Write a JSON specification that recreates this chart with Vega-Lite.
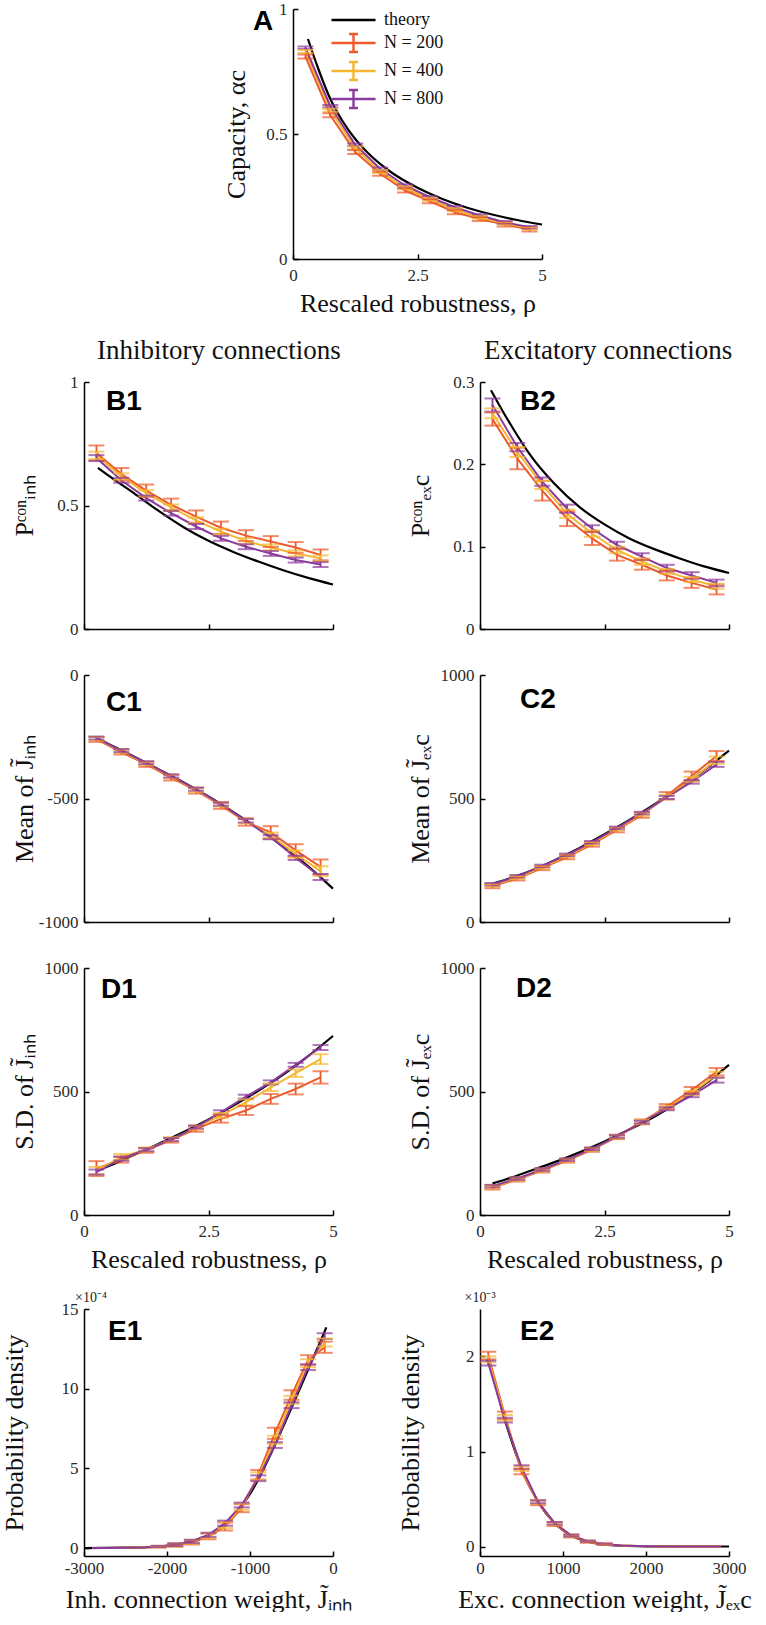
{
"$schema": "https://vega.github.io/schema/vega-lite/v6.json",
"background": "white",
"padding": {"left": 0, "top": 0, "right": 0, "bottom": 0},
"datasets": {"d": [
{"p":"A","s":"t","x":0.3,"y":0.88},{"p":"A","s":"t","x":0.5,"y":0.765},{"p":"A","s":"t","x":0.75,"y":0.64},{"p":"A","s":"t","x":1,"y":0.55},{"p":"A","s":"t","x":1.25,"y":0.48},{"p":"A","s":"t","x":1.5,"y":0.425},{"p":"A","s":"t","x":2,"y":0.343},{"p":"A","s":"t","x":2.5,"y":0.285},{"p":"A","s":"t","x":3,"y":0.24},{"p":"A","s":"t","x":3.5,"y":0.205},{"p":"A","s":"t","x":4,"y":0.178},{"p":"A","s":"t","x":4.5,"y":0.156},{"p":"A","s":"t","x":5,"y":0.138},
{"p":"A","s":"200","x":0.25,"y":0.81,"lo":0.802,"hi":0.818},{"p":"A","s":"200","x":0.75,"y":0.575,"lo":0.567,"hi":0.583},{"p":"A","s":"200","x":1.25,"y":0.428,"lo":0.42,"hi":0.436},{"p":"A","s":"200","x":1.75,"y":0.341,"lo":0.333,"hi":0.349},{"p":"A","s":"200","x":2.25,"y":0.274,"lo":0.266,"hi":0.282},{"p":"A","s":"200","x":2.75,"y":0.231,"lo":0.223,"hi":0.239},{"p":"A","s":"200","x":3.25,"y":0.187,"lo":0.179,"hi":0.195},{"p":"A","s":"200","x":3.75,"y":0.16,"lo":0.152,"hi":0.168},{"p":"A","s":"200","x":4.25,"y":0.138,"lo":0.13,"hi":0.146},{"p":"A","s":"200","x":4.75,"y":0.118,"lo":0.11,"hi":0.126},
{"p":"A","s":"400","x":0.25,"y":0.83,"lo":0.824,"hi":0.836},{"p":"A","s":"400","x":0.75,"y":0.595,"lo":0.589,"hi":0.601},{"p":"A","s":"400","x":1.25,"y":0.444,"lo":0.438,"hi":0.45},{"p":"A","s":"400","x":1.75,"y":0.35,"lo":0.344,"hi":0.356},{"p":"A","s":"400","x":2.25,"y":0.285,"lo":0.279,"hi":0.291},{"p":"A","s":"400","x":2.75,"y":0.239,"lo":0.233,"hi":0.245},{"p":"A","s":"400","x":3.25,"y":0.197,"lo":0.191,"hi":0.203},{"p":"A","s":"400","x":3.75,"y":0.167,"lo":0.161,"hi":0.173},{"p":"A","s":"400","x":4.25,"y":0.143,"lo":0.137,"hi":0.149},{"p":"A","s":"400","x":4.75,"y":0.123,"lo":0.117,"hi":0.129},
{"p":"A","s":"800","x":0.25,"y":0.845,"lo":0.84,"hi":0.85},{"p":"A","s":"800","x":0.75,"y":0.611,"lo":0.606,"hi":0.616},{"p":"A","s":"800","x":1.25,"y":0.457,"lo":0.452,"hi":0.462},{"p":"A","s":"800","x":1.75,"y":0.361,"lo":0.356,"hi":0.366},{"p":"A","s":"800","x":2.25,"y":0.294,"lo":0.289,"hi":0.299},{"p":"A","s":"800","x":2.75,"y":0.247,"lo":0.242,"hi":0.252},{"p":"A","s":"800","x":3.25,"y":0.207,"lo":0.202,"hi":0.212},{"p":"A","s":"800","x":3.75,"y":0.174,"lo":0.169,"hi":0.179},{"p":"A","s":"800","x":4.25,"y":0.147,"lo":0.142,"hi":0.152},{"p":"A","s":"800","x":4.75,"y":0.127,"lo":0.122,"hi":0.132},

{"p":"B1","s":"t","x":0.28,"y":0.652},{"p":"B1","s":"t","x":0.5,"y":0.62},{"p":"B1","s":"t","x":1,"y":0.55},{"p":"B1","s":"t","x":1.5,"y":0.478},{"p":"B1","s":"t","x":2,"y":0.412},{"p":"B1","s":"t","x":2.5,"y":0.357},{"p":"B1","s":"t","x":3,"y":0.312},{"p":"B1","s":"t","x":3.5,"y":0.273},{"p":"B1","s":"t","x":4,"y":0.238},{"p":"B1","s":"t","x":4.5,"y":0.207},{"p":"B1","s":"t","x":5,"y":0.18},
{"p":"B1","s":"200","x":0.25,"y":0.713,"lo":0.683,"hi":0.743},{"p":"B1","s":"200","x":0.75,"y":0.627,"lo":0.602,"hi":0.652},{"p":"B1","s":"200","x":1.25,"y":0.56,"lo":0.535,"hi":0.585},{"p":"B1","s":"200","x":1.75,"y":0.503,"lo":0.478,"hi":0.528},{"p":"B1","s":"200","x":2.25,"y":0.455,"lo":0.43,"hi":0.48},{"p":"B1","s":"200","x":2.75,"y":0.41,"lo":0.385,"hi":0.435},{"p":"B1","s":"200","x":3.25,"y":0.378,"lo":0.356,"hi":0.4},{"p":"B1","s":"200","x":3.75,"y":0.354,"lo":0.332,"hi":0.376},{"p":"B1","s":"200","x":4.25,"y":0.33,"lo":0.308,"hi":0.352},{"p":"B1","s":"200","x":4.75,"y":0.3,"lo":0.278,"hi":0.322},
{"p":"B1","s":"400","x":0.25,"y":0.703,"lo":0.688,"hi":0.718},{"p":"B1","s":"400","x":0.75,"y":0.618,"lo":0.606,"hi":0.63},{"p":"B1","s":"400","x":1.25,"y":0.55,"lo":0.538,"hi":0.562},{"p":"B1","s":"400","x":1.75,"y":0.492,"lo":0.48,"hi":0.504},{"p":"B1","s":"400","x":2.25,"y":0.44,"lo":0.428,"hi":0.452},{"p":"B1","s":"400","x":2.75,"y":0.394,"lo":0.382,"hi":0.406},{"p":"B1","s":"400","x":3.25,"y":0.356,"lo":0.344,"hi":0.368},{"p":"B1","s":"400","x":3.75,"y":0.33,"lo":0.318,"hi":0.342},{"p":"B1","s":"400","x":4.25,"y":0.306,"lo":0.294,"hi":0.318},{"p":"B1","s":"400","x":4.75,"y":0.286,"lo":0.274,"hi":0.298},
{"p":"B1","s":"800","x":0.25,"y":0.692,"lo":0.68,"hi":0.704},{"p":"B1","s":"800","x":0.75,"y":0.602,"lo":0.592,"hi":0.612},{"p":"B1","s":"800","x":1.25,"y":0.53,"lo":0.52,"hi":0.54},{"p":"B1","s":"800","x":1.75,"y":0.469,"lo":0.459,"hi":0.479},{"p":"B1","s":"800","x":2.25,"y":0.415,"lo":0.405,"hi":0.425},{"p":"B1","s":"800","x":2.75,"y":0.367,"lo":0.357,"hi":0.377},{"p":"B1","s":"800","x":3.25,"y":0.333,"lo":0.323,"hi":0.343},{"p":"B1","s":"800","x":3.75,"y":0.306,"lo":0.296,"hi":0.316},{"p":"B1","s":"800","x":4.25,"y":0.279,"lo":0.269,"hi":0.289},{"p":"B1","s":"800","x":4.75,"y":0.261,"lo":0.251,"hi":0.271},

{"p":"B2","s":"t","x":0.22,"y":0.29},{"p":"B2","s":"t","x":0.5,"y":0.26},{"p":"B2","s":"t","x":0.75,"y":0.235},{"p":"B2","s":"t","x":1,"y":0.212},{"p":"B2","s":"t","x":1.5,"y":0.176},{"p":"B2","s":"t","x":2,"y":0.148},{"p":"B2","s":"t","x":2.5,"y":0.127},{"p":"B2","s":"t","x":3,"y":0.11},{"p":"B2","s":"t","x":3.5,"y":0.097},{"p":"B2","s":"t","x":4,"y":0.086},{"p":"B2","s":"t","x":4.5,"y":0.076},{"p":"B2","s":"t","x":5,"y":0.068},
{"p":"B2","s":"200","x":0.25,"y":0.255,"lo":0.247,"hi":0.263},{"p":"B2","s":"200","x":0.75,"y":0.207,"lo":0.194,"hi":0.22},{"p":"B2","s":"200","x":1.25,"y":0.168,"lo":0.156,"hi":0.18},{"p":"B2","s":"200","x":1.75,"y":0.134,"lo":0.125,"hi":0.143},{"p":"B2","s":"200","x":2.25,"y":0.11,"lo":0.102,"hi":0.118},{"p":"B2","s":"200","x":2.75,"y":0.09,"lo":0.083,"hi":0.097},{"p":"B2","s":"200","x":3.25,"y":0.078,"lo":0.072,"hi":0.084},{"p":"B2","s":"200","x":3.75,"y":0.065,"lo":0.059,"hi":0.071},{"p":"B2","s":"200","x":4.25,"y":0.056,"lo":0.05,"hi":0.062},{"p":"B2","s":"200","x":4.75,"y":0.048,"lo":0.042,"hi":0.054},
{"p":"B2","s":"400","x":0.25,"y":0.262,"lo":0.256,"hi":0.268},{"p":"B2","s":"400","x":0.75,"y":0.215,"lo":0.209,"hi":0.221},{"p":"B2","s":"400","x":1.25,"y":0.175,"lo":0.17,"hi":0.18},{"p":"B2","s":"400","x":1.75,"y":0.14,"lo":0.135,"hi":0.145},{"p":"B2","s":"400","x":2.25,"y":0.116,"lo":0.112,"hi":0.12},{"p":"B2","s":"400","x":2.75,"y":0.096,"lo":0.092,"hi":0.1},{"p":"B2","s":"400","x":3.25,"y":0.082,"lo":0.078,"hi":0.086},{"p":"B2","s":"400","x":3.75,"y":0.07,"lo":0.067,"hi":0.073},{"p":"B2","s":"400","x":4.25,"y":0.06,"lo":0.057,"hi":0.063},{"p":"B2","s":"400","x":4.75,"y":0.052,"lo":0.049,"hi":0.055},
{"p":"B2","s":"800","x":0.25,"y":0.272,"lo":0.264,"hi":0.28},{"p":"B2","s":"800","x":0.75,"y":0.221,"lo":0.216,"hi":0.226},{"p":"B2","s":"800","x":1.25,"y":0.179,"lo":0.174,"hi":0.184},{"p":"B2","s":"800","x":1.75,"y":0.146,"lo":0.141,"hi":0.151},{"p":"B2","s":"800","x":2.25,"y":0.122,"lo":0.118,"hi":0.126},{"p":"B2","s":"800","x":2.75,"y":0.102,"lo":0.098,"hi":0.106},{"p":"B2","s":"800","x":3.25,"y":0.088,"lo":0.084,"hi":0.092},{"p":"B2","s":"800","x":3.75,"y":0.074,"lo":0.07,"hi":0.078},{"p":"B2","s":"800","x":4.25,"y":0.065,"lo":0.061,"hi":0.069},{"p":"B2","s":"800","x":4.75,"y":0.056,"lo":0.052,"hi":0.06},

{"p":"C1","s":"t","x":0.25,"y":-255},{"p":"C1","s":"t","x":0.5,"y":-280},{"p":"C1","s":"t","x":1,"y":-330},{"p":"C1","s":"t","x":1.5,"y":-382},{"p":"C1","s":"t","x":2,"y":-435},{"p":"C1","s":"t","x":2.5,"y":-492},{"p":"C1","s":"t","x":3,"y":-555},{"p":"C1","s":"t","x":3.5,"y":-622},{"p":"C1","s":"t","x":4,"y":-695},{"p":"C1","s":"t","x":4.5,"y":-775},{"p":"C1","s":"t","x":5,"y":-865},
{"p":"C1","s":"200","x":0.25,"y":-261,"lo":-271,"hi":-251},{"p":"C1","s":"200","x":0.75,"y":-312,"lo":-322,"hi":-302},{"p":"C1","s":"200","x":1.25,"y":-362,"lo":-372,"hi":-352},{"p":"C1","s":"200","x":1.75,"y":-415,"lo":-427,"hi":-403},{"p":"C1","s":"200","x":2.25,"y":-468,"lo":-480,"hi":-456},{"p":"C1","s":"200","x":2.75,"y":-528,"lo":-542,"hi":-514},{"p":"C1","s":"200","x":3.25,"y":-595,"lo":-610,"hi":-580},{"p":"C1","s":"200","x":3.75,"y":-637,"lo":-662,"hi":-612},{"p":"C1","s":"200","x":4.25,"y":-710,"lo":-735,"hi":-685},{"p":"C1","s":"200","x":4.75,"y":-777,"lo":-807,"hi":-747},
{"p":"C1","s":"400","x":0.25,"y":-258,"lo":-265,"hi":-251},{"p":"C1","s":"400","x":0.75,"y":-308,"lo":-315,"hi":-301},{"p":"C1","s":"400","x":1.25,"y":-358,"lo":-365,"hi":-351},{"p":"C1","s":"400","x":1.75,"y":-411,"lo":-418,"hi":-404},{"p":"C1","s":"400","x":2.25,"y":-465,"lo":-473,"hi":-457},{"p":"C1","s":"400","x":2.75,"y":-525,"lo":-533,"hi":-517},{"p":"C1","s":"400","x":3.25,"y":-592,"lo":-601,"hi":-583},{"p":"C1","s":"400","x":3.75,"y":-650,"lo":-662,"hi":-638},{"p":"C1","s":"400","x":4.25,"y":-725,"lo":-740,"hi":-710},{"p":"C1","s":"400","x":4.75,"y":-794,"lo":-814,"hi":-774},
{"p":"C1","s":"800","x":0.25,"y":-255,"lo":-261,"hi":-249},{"p":"C1","s":"800","x":0.75,"y":-306,"lo":-312,"hi":-300},{"p":"C1","s":"800","x":1.25,"y":-355,"lo":-361,"hi":-349},{"p":"C1","s":"800","x":1.75,"y":-409,"lo":-415,"hi":-403},{"p":"C1","s":"800","x":2.25,"y":-462,"lo":-468,"hi":-456},{"p":"C1","s":"800","x":2.75,"y":-523,"lo":-529,"hi":-517},{"p":"C1","s":"800","x":3.25,"y":-590,"lo":-597,"hi":-583},{"p":"C1","s":"800","x":3.75,"y":-657,"lo":-665,"hi":-649},{"p":"C1","s":"800","x":4.25,"y":-740,"lo":-749,"hi":-731},{"p":"C1","s":"800","x":4.75,"y":-818,"lo":-830,"hi":-806},

{"p":"C2","s":"t","x":0.25,"y":155},{"p":"C2","s":"t","x":0.5,"y":170},{"p":"C2","s":"t","x":1,"y":205},{"p":"C2","s":"t","x":1.5,"y":250},{"p":"C2","s":"t","x":2,"y":300},{"p":"C2","s":"t","x":2.5,"y":355},{"p":"C2","s":"t","x":3,"y":413},{"p":"C2","s":"t","x":3.5,"y":476},{"p":"C2","s":"t","x":4,"y":543},{"p":"C2","s":"t","x":4.5,"y":615},{"p":"C2","s":"t","x":5,"y":694},
{"p":"C2","s":"200","x":0.25,"y":145,"lo":137,"hi":153},{"p":"C2","s":"200","x":0.75,"y":176,"lo":168,"hi":184},{"p":"C2","s":"200","x":1.25,"y":218,"lo":210,"hi":226},{"p":"C2","s":"200","x":1.75,"y":263,"lo":254,"hi":272},{"p":"C2","s":"200","x":2.25,"y":314,"lo":305,"hi":323},{"p":"C2","s":"200","x":2.75,"y":373,"lo":363,"hi":383},{"p":"C2","s":"200","x":3.25,"y":433,"lo":422,"hi":444},{"p":"C2","s":"200","x":3.75,"y":511,"lo":496,"hi":526},{"p":"C2","s":"200","x":4.25,"y":591,"lo":573,"hi":609},{"p":"C2","s":"200","x":4.75,"y":672,"lo":652,"hi":692},
{"p":"C2","s":"400","x":0.25,"y":149,"lo":143,"hi":155},{"p":"C2","s":"400","x":0.75,"y":180,"lo":174,"hi":186},{"p":"C2","s":"400","x":1.25,"y":222,"lo":216,"hi":228},{"p":"C2","s":"400","x":1.75,"y":268,"lo":262,"hi":274},{"p":"C2","s":"400","x":2.25,"y":318,"lo":312,"hi":324},{"p":"C2","s":"400","x":2.75,"y":377,"lo":370,"hi":384},{"p":"C2","s":"400","x":3.25,"y":437,"lo":430,"hi":444},{"p":"C2","s":"400","x":3.75,"y":506,"lo":497,"hi":515},{"p":"C2","s":"400","x":4.25,"y":578,"lo":568,"hi":588},{"p":"C2","s":"400","x":4.75,"y":655,"lo":640,"hi":670},
{"p":"C2","s":"800","x":0.25,"y":153,"lo":148,"hi":158},{"p":"C2","s":"800","x":0.75,"y":185,"lo":180,"hi":190},{"p":"C2","s":"800","x":1.25,"y":227,"lo":222,"hi":232},{"p":"C2","s":"800","x":1.75,"y":272,"lo":267,"hi":277},{"p":"C2","s":"800","x":2.25,"y":323,"lo":318,"hi":328},{"p":"C2","s":"800","x":2.75,"y":381,"lo":376,"hi":386},{"p":"C2","s":"800","x":3.25,"y":441,"lo":436,"hi":446},{"p":"C2","s":"800","x":3.75,"y":504,"lo":498,"hi":510},{"p":"C2","s":"800","x":4.25,"y":567,"lo":560,"hi":574},{"p":"C2","s":"800","x":4.75,"y":638,"lo":628,"hi":648},

{"p":"D1","s":"t","x":0.25,"y":178},{"p":"D1","s":"t","x":0.5,"y":198},{"p":"D1","s":"t","x":1,"y":243},{"p":"D1","s":"t","x":1.5,"y":288},{"p":"D1","s":"t","x":2,"y":336},{"p":"D1","s":"t","x":2.5,"y":387},{"p":"D1","s":"t","x":3,"y":443},{"p":"D1","s":"t","x":3.5,"y":503},{"p":"D1","s":"t","x":4,"y":568},{"p":"D1","s":"t","x":4.5,"y":643},{"p":"D1","s":"t","x":5,"y":725},
{"p":"D1","s":"200","x":0.25,"y":188,"lo":158,"hi":218},{"p":"D1","s":"200","x":0.75,"y":224,"lo":212,"hi":236},{"p":"D1","s":"200","x":1.25,"y":262,"lo":252,"hi":272},{"p":"D1","s":"200","x":1.75,"y":303,"lo":293,"hi":313},{"p":"D1","s":"200","x":2.25,"y":349,"lo":337,"hi":361},{"p":"D1","s":"200","x":2.75,"y":389,"lo":374,"hi":404},{"p":"D1","s":"200","x":3.25,"y":423,"lo":405,"hi":441},{"p":"D1","s":"200","x":3.75,"y":470,"lo":450,"hi":490},{"p":"D1","s":"200","x":4.25,"y":510,"lo":488,"hi":532},{"p":"D1","s":"200","x":4.75,"y":557,"lo":532,"hi":582},
{"p":"D1","s":"400","x":0.25,"y":180,"lo":165,"hi":195},{"p":"D1","s":"400","x":0.75,"y":235,"lo":223,"hi":247},{"p":"D1","s":"400","x":1.25,"y":265,"lo":257,"hi":273},{"p":"D1","s":"400","x":1.75,"y":306,"lo":298,"hi":314},{"p":"D1","s":"400","x":2.25,"y":354,"lo":346,"hi":362},{"p":"D1","s":"400","x":2.75,"y":403,"lo":393,"hi":413},{"p":"D1","s":"400","x":3.25,"y":456,"lo":444,"hi":468},{"p":"D1","s":"400","x":3.75,"y":517,"lo":502,"hi":532},{"p":"D1","s":"400","x":4.25,"y":574,"lo":559,"hi":589},{"p":"D1","s":"400","x":4.75,"y":631,"lo":611,"hi":651},
{"p":"D1","s":"800","x":0.25,"y":174,"lo":164,"hi":184},{"p":"D1","s":"800","x":0.75,"y":228,"lo":220,"hi":236},{"p":"D1","s":"800","x":1.25,"y":264,"lo":258,"hi":270},{"p":"D1","s":"800","x":1.75,"y":305,"lo":299,"hi":311},{"p":"D1","s":"800","x":2.25,"y":356,"lo":350,"hi":362},{"p":"D1","s":"800","x":2.75,"y":416,"lo":408,"hi":424},{"p":"D1","s":"800","x":3.25,"y":479,"lo":471,"hi":487},{"p":"D1","s":"800","x":3.75,"y":537,"lo":529,"hi":545},{"p":"D1","s":"800","x":4.25,"y":608,"lo":600,"hi":616},{"p":"D1","s":"800","x":4.75,"y":678,"lo":668,"hi":688},

{"p":"D2","s":"t","x":0.25,"y":128},{"p":"D2","s":"t","x":0.5,"y":143},{"p":"D2","s":"t","x":1,"y":178},{"p":"D2","s":"t","x":1.5,"y":214},{"p":"D2","s":"t","x":2,"y":254},{"p":"D2","s":"t","x":2.5,"y":298},{"p":"D2","s":"t","x":3,"y":346},{"p":"D2","s":"t","x":3.5,"y":398},{"p":"D2","s":"t","x":4,"y":458},{"p":"D2","s":"t","x":4.5,"y":528},{"p":"D2","s":"t","x":5,"y":608},
{"p":"D2","s":"200","x":0.25,"y":111,"lo":103,"hi":119},{"p":"D2","s":"200","x":0.75,"y":144,"lo":136,"hi":152},{"p":"D2","s":"200","x":1.25,"y":180,"lo":172,"hi":188},{"p":"D2","s":"200","x":1.75,"y":220,"lo":212,"hi":228},{"p":"D2","s":"200","x":2.25,"y":264,"lo":256,"hi":272},{"p":"D2","s":"200","x":2.75,"y":316,"lo":307,"hi":325},{"p":"D2","s":"200","x":3.25,"y":377,"lo":367,"hi":387},{"p":"D2","s":"200","x":3.75,"y":439,"lo":429,"hi":449},{"p":"D2","s":"200","x":4.25,"y":506,"lo":494,"hi":518},{"p":"D2","s":"200","x":4.75,"y":580,"lo":565,"hi":595},
{"p":"D2","s":"400","x":0.25,"y":114,"lo":108,"hi":120},{"p":"D2","s":"400","x":0.75,"y":146,"lo":140,"hi":152},{"p":"D2","s":"400","x":1.25,"y":182,"lo":176,"hi":188},{"p":"D2","s":"400","x":1.75,"y":222,"lo":216,"hi":228},{"p":"D2","s":"400","x":2.25,"y":266,"lo":260,"hi":272},{"p":"D2","s":"400","x":2.75,"y":317,"lo":311,"hi":323},{"p":"D2","s":"400","x":3.25,"y":376,"lo":369,"hi":383},{"p":"D2","s":"400","x":3.75,"y":434,"lo":427,"hi":441},{"p":"D2","s":"400","x":4.25,"y":494,"lo":486,"hi":502},{"p":"D2","s":"400","x":4.75,"y":568,"lo":556,"hi":580},
{"p":"D2","s":"800","x":0.25,"y":117,"lo":112,"hi":122},{"p":"D2","s":"800","x":0.75,"y":148,"lo":143,"hi":153},{"p":"D2","s":"800","x":1.25,"y":184,"lo":179,"hi":189},{"p":"D2","s":"800","x":1.75,"y":224,"lo":219,"hi":229},{"p":"D2","s":"800","x":2.25,"y":268,"lo":263,"hi":273},{"p":"D2","s":"800","x":2.75,"y":318,"lo":313,"hi":323},{"p":"D2","s":"800","x":3.25,"y":376,"lo":371,"hi":381},{"p":"D2","s":"800","x":3.75,"y":430,"lo":424,"hi":436},{"p":"D2","s":"800","x":4.25,"y":483,"lo":477,"hi":489},{"p":"D2","s":"800","x":4.75,"y":546,"lo":536,"hi":556},

{"p":"E1","s":"t","x":-3000,"y":0},{"p":"E1","s":"t","x":-2500,"y":0.02},{"p":"E1","s":"t","x":-2250,"y":0.05},{"p":"E1","s":"t","x":-2000,"y":0.14},{"p":"E1","s":"t","x":-1750,"y":0.37},{"p":"E1","s":"t","x":-1500,"y":0.82},{"p":"E1","s":"t","x":-1250,"y":1.78},{"p":"E1","s":"t","x":-1000,"y":3.4},{"p":"E1","s":"t","x":-900,"y":4.3},{"p":"E1","s":"t","x":-750,"y":5.9},{"p":"E1","s":"t","x":-500,"y":8.8},{"p":"E1","s":"t","x":-250,"y":11.8},{"p":"E1","s":"t","x":-100,"y":13.6},{"p":"E1","s":"t","x":-80,"y":13.85},
{"p":"E1","s":"200","x":-2900,"y":0},{"p":"E1","s":"200","x":-2700,"y":0.005},{"p":"E1","s":"200","x":-2500,"y":0.012},{"p":"E1","s":"200","x":-2300,"y":0.03},{"p":"E1","s":"200","x":-2100,"y":0.08,"lo":0.03,"hi":0.13},{"p":"E1","s":"200","x":-1900,"y":0.18,"lo":0.08,"hi":0.28},{"p":"E1","s":"200","x":-1700,"y":0.35,"lo":0.22,"hi":0.48},{"p":"E1","s":"200","x":-1500,"y":0.73,"lo":0.55,"hi":0.91},{"p":"E1","s":"200","x":-1300,"y":1.35,"lo":1.1,"hi":1.6},{"p":"E1","s":"200","x":-1100,"y":2.5,"lo":2.25,"hi":2.75},{"p":"E1","s":"200","x":-900,"y":4.6,"lo":4.3,"hi":4.9},{"p":"E1","s":"200","x":-700,"y":7.2,"lo":6.85,"hi":7.55},{"p":"E1","s":"200","x":-500,"y":9.6,"lo":9.3,"hi":9.9},{"p":"E1","s":"200","x":-300,"y":11.8,"lo":11.5,"hi":12.1},{"p":"E1","s":"200","x":-100,"y":12.6,"lo":12.25,"hi":12.95},
{"p":"E1","s":"400","x":-2900,"y":0},{"p":"E1","s":"400","x":-2700,"y":0.005},{"p":"E1","s":"400","x":-2500,"y":0.013},{"p":"E1","s":"400","x":-2300,"y":0.035},{"p":"E1","s":"400","x":-2100,"y":0.09,"lo":0.05,"hi":0.13},{"p":"E1","s":"400","x":-1900,"y":0.2,"lo":0.1,"hi":0.3},{"p":"E1","s":"400","x":-1700,"y":0.39,"lo":0.27,"hi":0.51},{"p":"E1","s":"400","x":-1500,"y":0.78,"lo":0.62,"hi":0.94},{"p":"E1","s":"400","x":-1300,"y":1.45,"lo":1.25,"hi":1.65},{"p":"E1","s":"400","x":-1100,"y":2.6,"lo":2.4,"hi":2.8},{"p":"E1","s":"400","x":-900,"y":4.5,"lo":4.25,"hi":4.75},{"p":"E1","s":"400","x":-700,"y":6.8,"lo":6.55,"hi":7.05},{"p":"E1","s":"400","x":-500,"y":9.3,"lo":9.05,"hi":9.55},{"p":"E1","s":"400","x":-300,"y":11.6,"lo":11.35,"hi":11.85},{"p":"E1","s":"400","x":-100,"y":12.9,"lo":12.65,"hi":13.15},
{"p":"E1","s":"800","x":-2900,"y":0},{"p":"E1","s":"800","x":-2700,"y":0.006},{"p":"E1","s":"800","x":-2500,"y":0.015},{"p":"E1","s":"800","x":-2300,"y":0.04},{"p":"E1","s":"800","x":-2100,"y":0.1,"lo":0.06,"hi":0.14},{"p":"E1","s":"800","x":-1900,"y":0.21,"lo":0.13,"hi":0.29},{"p":"E1","s":"800","x":-1700,"y":0.42,"lo":0.32,"hi":0.52},{"p":"E1","s":"800","x":-1500,"y":0.83,"lo":0.7,"hi":0.96},{"p":"E1","s":"800","x":-1300,"y":1.56,"lo":1.4,"hi":1.72},{"p":"E1","s":"800","x":-1100,"y":2.7,"lo":2.55,"hi":2.85},{"p":"E1","s":"800","x":-900,"y":4.38,"lo":4.2,"hi":4.56},{"p":"E1","s":"800","x":-700,"y":6.46,"lo":6.28,"hi":6.64},{"p":"E1","s":"800","x":-500,"y":8.96,"lo":8.78,"hi":9.14},{"p":"E1","s":"800","x":-300,"y":11.35,"lo":11.17,"hi":11.53},{"p":"E1","s":"800","x":-100,"y":13.3,"lo":13.12,"hi":13.48},

{"p":"E2","s":"t","x":80,"y":1.97},{"p":"E2","s":"t","x":100,"y":1.94},{"p":"E2","s":"t","x":300,"y":1.33},{"p":"E2","s":"t","x":500,"y":0.82},{"p":"E2","s":"t","x":700,"y":0.47},{"p":"E2","s":"t","x":900,"y":0.245},{"p":"E2","s":"t","x":1100,"y":0.115},{"p":"E2","s":"t","x":1300,"y":0.05},{"p":"E2","s":"t","x":1500,"y":0.02},{"p":"E2","s":"t","x":1700,"y":0.008},{"p":"E2","s":"t","x":2000,"y":0.002},{"p":"E2","s":"t","x":2500,"y":0},{"p":"E2","s":"t","x":3000,"y":0},
{"p":"E2","s":"200","x":100,"y":2.01,"lo":1.97,"hi":2.05},{"p":"E2","s":"200","x":300,"y":1.38,"lo":1.34,"hi":1.42},{"p":"E2","s":"200","x":500,"y":0.79,"lo":0.76,"hi":0.82},{"p":"E2","s":"200","x":700,"y":0.46,"lo":0.435,"hi":0.485},{"p":"E2","s":"200","x":900,"y":0.235,"lo":0.215,"hi":0.255},{"p":"E2","s":"200","x":1100,"y":0.11,"lo":0.095,"hi":0.125},{"p":"E2","s":"200","x":1300,"y":0.05,"lo":0.04,"hi":0.06},{"p":"E2","s":"200","x":1500,"y":0.024,"lo":0.016,"hi":0.032},{"p":"E2","s":"200","x":1700,"y":0.01},{"p":"E2","s":"200","x":1900,"y":0.004},{"p":"E2","s":"200","x":2100,"y":0.0015},{"p":"E2","s":"200","x":2300,"y":0.0005},{"p":"E2","s":"200","x":2500,"y":0},{"p":"E2","s":"200","x":2700,"y":0},{"p":"E2","s":"200","x":2900,"y":0},
{"p":"E2","s":"400","x":100,"y":1.97,"lo":1.94,"hi":2.0},{"p":"E2","s":"400","x":300,"y":1.355,"lo":1.325,"hi":1.385},{"p":"E2","s":"400","x":500,"y":0.82,"lo":0.795,"hi":0.845},{"p":"E2","s":"400","x":700,"y":0.47,"lo":0.45,"hi":0.49},{"p":"E2","s":"400","x":900,"y":0.24,"lo":0.225,"hi":0.255},{"p":"E2","s":"400","x":1100,"y":0.113,"lo":0.1,"hi":0.126},{"p":"E2","s":"400","x":1300,"y":0.053,"lo":0.045,"hi":0.061},{"p":"E2","s":"400","x":1500,"y":0.025,"lo":0.019,"hi":0.031},{"p":"E2","s":"400","x":1700,"y":0.01},{"p":"E2","s":"400","x":1900,"y":0.004},{"p":"E2","s":"400","x":2100,"y":0.0015},{"p":"E2","s":"400","x":2300,"y":0.0005},{"p":"E2","s":"400","x":2500,"y":0},{"p":"E2","s":"400","x":2700,"y":0},{"p":"E2","s":"400","x":2900,"y":0},
{"p":"E2","s":"800","x":100,"y":1.93,"lo":1.905,"hi":1.955},{"p":"E2","s":"800","x":300,"y":1.33,"lo":1.305,"hi":1.355},{"p":"E2","s":"800","x":500,"y":0.835,"lo":0.815,"hi":0.855},{"p":"E2","s":"800","x":700,"y":0.47,"lo":0.455,"hi":0.485},{"p":"E2","s":"800","x":900,"y":0.245,"lo":0.232,"hi":0.258},{"p":"E2","s":"800","x":1100,"y":0.115,"lo":0.105,"hi":0.125},{"p":"E2","s":"800","x":1300,"y":0.055,"lo":0.048,"hi":0.062},{"p":"E2","s":"800","x":1500,"y":0.026,"lo":0.021,"hi":0.031},{"p":"E2","s":"800","x":1700,"y":0.01},{"p":"E2","s":"800","x":1900,"y":0.004},{"p":"E2","s":"800","x":2100,"y":0.0015},{"p":"E2","s":"800","x":2300,"y":0.0005},{"p":"E2","s":"800","x":2500,"y":0},{"p":"E2","s":"800","x":2700,"y":0},{"p":"E2","s":"800","x":2900,"y":0}
]},
"config": {
  "view": {"stroke": null},
  "axis": {"grid": false, "domainColor": "#000000", "domainWidth": 1.5, "tickColor": "#000000", "tickWidth": 1.5, "tickSize": -5, "labelFont": "Liberation Serif", "labelFontSize": 17, "labelColor": "#2a2a2a", "titleFont": "Liberation Serif", "titleFontSize": 26, "titleFontWeight": "normal", "titleColor": "#111111"},
  "axisX": {"labelPadding": 13, "titlePadding": 7, "labelFlush": false},
  "axisY": {"labelPadding": 11, "titleBaseline": "bottom"},
  "title": {"font": "Liberation Sans", "fontSize": 28, "fontWeight": "bold", "color": "#000000", "anchor": "start", "frame": "group"}
},
"resolve": {"scale": {"color": "independent"}, "legend": {"color": "independent"}},
"spacing": 21,
"vconcat": [
 {"resolve": {"scale": {"color": "independent"}, "legend": {"color": "independent"}},
  "spacing": 0,
  "hconcat": [
   {"width": 139, "height": 250, "data": {"values": []}, "mark": "point"},
   {"width": 249, "height": 250,
    "title": {"text": "A", "dx": -40, "offset": -36},
    "data": {"name": "d"},
    "transform": [{"filter": "datum.p == 'A'"}],
    "encoding": {
      "x": {"field": "x", "type": "quantitative", "scale": {"domain": [0, 5], "nice": false, "zero": false}, "axis": {"values": [0, 2.5, 5], "labelExpr": "'' + datum.value", "title": "Rescaled robustness, ρ"}},
      "y": {"field": "y", "type": "quantitative", "title": "Capacity, αc", "scale": {"domain": [0, 1], "nice": false, "zero": false}, "axis": {"values": [0, 0.5, 1], "labelExpr": "'' + datum.value", "titleX": -44}},
      "color": {"field": "s", "type": "nominal", "scale": {"domain": ["t", "200", "400", "800"], "range": ["#000000", "#EC5B2C", "#F5B731", "#8B3A9C"]},
        "legend": {"orient": "none", "legendX": 49.5, "legendY": 0, "direction": "vertical", "title": null, "padding": 0, "symbolType": "stroke", "symbolSize": 361, "symbolStrokeWidth": 2.4, "labelFont": "Liberation Serif", "labelFontSize": 18, "labelColor": "#111111", "labelOffset": 19.5, "rowPadding": 0,
          "labelExpr": "datum.value == 't' ? 'theory' : 'N = ' + datum.value",
          "encode": {"symbols": {"update": {"shape": {"signal": "datum.value == 't' ? 'M-2.32,0H2.32' : 'M-2.32,0H2.32M0,-0.95V0.95M-0.47,-0.95H0.47M-0.47,0.95H0.47'"}}}}}}
    },
    "layer": [
      {"transform": [{"filter": "datum.s == 't'"}], "mark": {"type": "line", "strokeWidth": 2.2, "interpolate": "monotone"}},
      {"transform": [{"filter": "datum.s != 't'"}], "mark": {"type": "line", "strokeWidth": 2}},
      {"transform": [{"filter": "datum.s != 't' && isValid(datum.lo)"}], "mark": {"type": "rule", "strokeWidth": 1.8}, "encoding": {"y": {"field": "lo", "type": "quantitative", "title": "Capacity, αc"}, "y2": {"field": "hi"}}},
      {"transform": [{"filter": "datum.s != 't' && isValid(datum.lo)"}], "mark": {"type": "tick", "orient": "horizontal", "size": 16, "thickness": 2}, "encoding": {"y": {"field": "lo", "type": "quantitative", "title": "Capacity, αc"}}},
      {"transform": [{"filter": "datum.s != 't' && isValid(datum.hi)"}], "mark": {"type": "tick", "orient": "horizontal", "size": 16, "thickness": 2}, "encoding": {"y": {"field": "hi", "type": "quantitative", "title": "Capacity, αc"}}}
    ]
   }
  ]
 },
 {"spacing": 44,
  "hconcat": [
   {"title": {"text": "Inhibitory connections", "font": "Liberation Serif", "fontSize": 27, "fontWeight": "normal", "color": "#111111", "anchor": "start", "frame": "bounds", "dx": 96, "offset": 8},
    "spacing": 18,
    "vconcat": [
     {"spacing": 29,
      "vconcat": [
       {"width": 249, "height": 247,
        "title": {"text": "B1", "dx": 22, "offset": -43},
        "data": {"name": "d"},
        "transform": [{"filter": "datum.p == 'B1'"}],
        "encoding": {
          "x": {"field": "x", "type": "quantitative", "scale": {"domain": [0, 5], "nice": false, "zero": false}, "axis": {"values": [0, 2.5, 5], "labels": false, "title": null}},
          "y": {"field": "y", "type": "quantitative", "title": "Pᶜᵒⁿᵢₙₕ", "scale": {"domain": [0, 1], "nice": false, "zero": false}, "axis": {"values": [0, 0.5, 1], "labelExpr": "'' + datum.value", "titleX": -47}},
          "color": {"field": "s", "type": "nominal", "scale": {"domain": ["t", "200", "400", "800"], "range": ["#000000", "#EC5B2C", "#F5B731", "#8B3A9C"]}, "legend": null}
        },
        "layer": [
          {"transform": [{"filter": "datum.s == 't'"}], "mark": {"type": "line", "strokeWidth": 2.2, "interpolate": "monotone"}},
          {"transform": [{"filter": "datum.s != 't'"}], "mark": {"type": "line", "strokeWidth": 2}},
          {"transform": [{"filter": "datum.s != 't' && isValid(datum.lo)"}], "mark": {"type": "rule", "strokeWidth": 1.8}, "encoding": {"y": {"field": "lo", "type": "quantitative", "title": "Pᶜᵒⁿᵢₙₕ"}, "y2": {"field": "hi"}}},
          {"transform": [{"filter": "datum.s != 't' && isValid(datum.lo)"}], "mark": {"type": "tick", "orient": "horizontal", "size": 16, "thickness": 2}, "encoding": {"y": {"field": "lo", "type": "quantitative", "title": "Pᶜᵒⁿᵢₙₕ"}}},
          {"transform": [{"filter": "datum.s != 't' && isValid(datum.hi)"}], "mark": {"type": "tick", "orient": "horizontal", "size": 16, "thickness": 2}, "encoding": {"y": {"field": "hi", "type": "quantitative", "title": "Pᶜᵒⁿᵢₙₕ"}}}
        ]
       },
       {"width": 249, "height": 247,
        "title": {"text": "C1", "dx": 22, "offset": -51},
        "data": {"name": "d"},
        "transform": [{"filter": "datum.p == 'C1'"}],
        "encoding": {
          "x": {"field": "x", "type": "quantitative", "scale": {"domain": [0, 5], "nice": false, "zero": false}, "axis": {"values": [0, 2.5, 5], "labels": false, "title": null}},
          "y": {"field": "y", "type": "quantitative", "title": "Mean of J̃ᵢₙₕ", "scale": {"domain": [-1000, 0], "nice": false, "zero": false}, "axis": {"values": [-1000, -500, 0], "labelExpr": "'' + datum.value", "titleX": -47}},
          "color": {"field": "s", "type": "nominal", "scale": {"domain": ["t", "200", "400", "800"], "range": ["#000000", "#EC5B2C", "#F5B731", "#8B3A9C"]}, "legend": null}
        },
        "layer": [
          {"transform": [{"filter": "datum.s == 't'"}], "mark": {"type": "line", "strokeWidth": 2.2, "interpolate": "monotone"}},
          {"transform": [{"filter": "datum.s != 't'"}], "mark": {"type": "line", "strokeWidth": 2}},
          {"transform": [{"filter": "datum.s != 't' && isValid(datum.lo)"}], "mark": {"type": "rule", "strokeWidth": 1.8}, "encoding": {"y": {"field": "lo", "type": "quantitative", "title": "Mean of J̃ᵢₙₕ"}, "y2": {"field": "hi"}}},
          {"transform": [{"filter": "datum.s != 't' && isValid(datum.lo)"}], "mark": {"type": "tick", "orient": "horizontal", "size": 16, "thickness": 2}, "encoding": {"y": {"field": "lo", "type": "quantitative", "title": "Mean of J̃ᵢₙₕ"}}},
          {"transform": [{"filter": "datum.s != 't' && isValid(datum.hi)"}], "mark": {"type": "tick", "orient": "horizontal", "size": 16, "thickness": 2}, "encoding": {"y": {"field": "hi", "type": "quantitative", "title": "Mean of J̃ᵢₙₕ"}}}
        ]
       },
       {"width": 249, "height": 247,
        "title": {"text": "D1", "dx": 17, "offset": -45},
        "data": {"name": "d"},
        "transform": [{"filter": "datum.p == 'D1'"}],
        "encoding": {
          "x": {"field": "x", "type": "quantitative", "scale": {"domain": [0, 5], "nice": false, "zero": false}, "axis": {"values": [0, 2.5, 5], "labelExpr": "'' + datum.value", "title": "Rescaled robustness, ρ"}},
          "y": {"field": "y", "type": "quantitative", "title": "S.D. of J̃ᵢₙₕ", "scale": {"domain": [0, 1000], "nice": false, "zero": false}, "axis": {"values": [0, 500, 1000], "labelExpr": "'' + datum.value", "titleX": -47}},
          "color": {"field": "s", "type": "nominal", "scale": {"domain": ["t", "200", "400", "800"], "range": ["#000000", "#EC5B2C", "#F5B731", "#8B3A9C"]}, "legend": null}
        },
        "layer": [
          {"transform": [{"filter": "datum.s == 't'"}], "mark": {"type": "line", "strokeWidth": 2.2, "interpolate": "monotone"}},
          {"transform": [{"filter": "datum.s != 't'"}], "mark": {"type": "line", "strokeWidth": 2}},
          {"transform": [{"filter": "datum.s != 't' && isValid(datum.lo)"}], "mark": {"type": "rule", "strokeWidth": 1.8}, "encoding": {"y": {"field": "lo", "type": "quantitative", "title": "S.D. of J̃ᵢₙₕ"}, "y2": {"field": "hi"}}},
          {"transform": [{"filter": "datum.s != 't' && isValid(datum.lo)"}], "mark": {"type": "tick", "orient": "horizontal", "size": 16, "thickness": 2}, "encoding": {"y": {"field": "lo", "type": "quantitative", "title": "S.D. of J̃ᵢₙₕ"}}},
          {"transform": [{"filter": "datum.s != 't' && isValid(datum.hi)"}], "mark": {"type": "tick", "orient": "horizontal", "size": 16, "thickness": 2}, "encoding": {"y": {"field": "hi", "type": "quantitative", "title": "S.D. of J̃ᵢₙₕ"}}}
        ]
       }
      ]
     },
     {"width": 249, "height": 247,
      "title": {"text": "E1", "dx": 24, "offset": -56},
      "data": {"name": "d"},
      "transform": [{"filter": "datum.p == 'E1'"}],
      "resolve": {"axis": {"y": "independent"}},
      "layer": [
       {"encoding": {
          "x": {"field": "x", "type": "quantitative", "scale": {"domain": [-3000, 0], "nice": false, "zero": false}, "axis": {"values": [-3000, -2000, -1000, 0], "labelExpr": "'' + datum.value", "labelPadding": 9, "titlePadding": 10, "title": "Inh. connection weight, J̃ᵢₙₕ"}},
          "y": {"field": "y", "type": "quantitative", "title": "Probability density", "scale": {"domain": [-0.5, 15], "nice": false, "zero": false}, "axis": {"values": [0, 5, 10, 15], "labelExpr": "'' + datum.value", "titleX": -57}},
          "color": {"field": "s", "type": "nominal", "scale": {"domain": ["t", "200", "400", "800"], "range": ["#000000", "#EC5B2C", "#F5B731", "#8B3A9C"]}, "legend": null}
        },
        "layer": [
          {"transform": [{"filter": "datum.s == 't'"}], "mark": {"type": "line", "strokeWidth": 2.2, "interpolate": "monotone"}},
          {"transform": [{"filter": "datum.s != 't'"}], "mark": {"type": "line", "strokeWidth": 2}},
          {"transform": [{"filter": "datum.s != 't' && isValid(datum.lo)"}], "mark": {"type": "rule", "strokeWidth": 1.8}, "encoding": {"y": {"field": "lo", "type": "quantitative", "title": "Probability density"}, "y2": {"field": "hi"}}},
          {"transform": [{"filter": "datum.s != 't' && isValid(datum.lo)"}], "mark": {"type": "tick", "orient": "horizontal", "size": 16, "thickness": 2}, "encoding": {"y": {"field": "lo", "type": "quantitative", "title": "Probability density"}}},
          {"transform": [{"filter": "datum.s != 't' && isValid(datum.hi)"}], "mark": {"type": "tick", "orient": "horizontal", "size": 16, "thickness": 2}, "encoding": {"y": {"field": "hi", "type": "quantitative", "title": "Probability density"}}}
        ]
       },
       {"transform": [{"filter": "false"}], "mark": {"type": "point", "opacity": 0},
        "encoding": {"y": {"field": "y", "type": "quantitative", "axis": {"orient": "left", "title": "×10⁻⁴", "titleAngle": 0, "titleX": -9.5, "titleY": -8, "titleAlign": "left", "titleBaseline": "alphabetic", "titleFontSize": 14, "titleColor": "#222222", "labels": false, "ticks": false, "domain": false}}}}
      ]
     }
    ]
   },
   {"title": {"text": "Excitatory connections", "font": "Liberation Serif", "fontSize": 27, "fontWeight": "normal", "color": "#111111", "anchor": "start", "frame": "bounds", "dx": 87, "offset": 8},
    "spacing": 18,
    "vconcat": [
     {"spacing": 29,
      "vconcat": [
       {"width": 249, "height": 247,
        "title": {"text": "B2", "dx": 40, "offset": -43},
        "data": {"name": "d"},
        "transform": [{"filter": "datum.p == 'B2'"}],
        "encoding": {
          "x": {"field": "x", "type": "quantitative", "scale": {"domain": [0, 5], "nice": false, "zero": false}, "axis": {"values": [0, 2.5, 5], "labels": false, "title": null}},
          "y": {"field": "y", "type": "quantitative", "title": "Pᶜᵒⁿₑₓc", "scale": {"domain": [0, 0.3], "nice": false, "zero": false}, "axis": {"values": [0, 0.1, 0.2, 0.3], "labelExpr": "'' + datum.value", "titleX": -47}},
          "color": {"field": "s", "type": "nominal", "scale": {"domain": ["t", "200", "400", "800"], "range": ["#000000", "#EC5B2C", "#F5B731", "#8B3A9C"]}, "legend": null}
        },
        "layer": [
          {"transform": [{"filter": "datum.s == 't'"}], "mark": {"type": "line", "strokeWidth": 2.2, "interpolate": "monotone"}},
          {"transform": [{"filter": "datum.s != 't'"}], "mark": {"type": "line", "strokeWidth": 2}},
          {"transform": [{"filter": "datum.s != 't' && isValid(datum.lo)"}], "mark": {"type": "rule", "strokeWidth": 1.8}, "encoding": {"y": {"field": "lo", "type": "quantitative", "title": "Pᶜᵒⁿₑₓc"}, "y2": {"field": "hi"}}},
          {"transform": [{"filter": "datum.s != 't' && isValid(datum.lo)"}], "mark": {"type": "tick", "orient": "horizontal", "size": 16, "thickness": 2}, "encoding": {"y": {"field": "lo", "type": "quantitative", "title": "Pᶜᵒⁿₑₓc"}}},
          {"transform": [{"filter": "datum.s != 't' && isValid(datum.hi)"}], "mark": {"type": "tick", "orient": "horizontal", "size": 16, "thickness": 2}, "encoding": {"y": {"field": "hi", "type": "quantitative", "title": "Pᶜᵒⁿₑₓc"}}}
        ]
       },
       {"width": 249, "height": 247,
        "title": {"text": "C2", "dx": 40, "offset": -48},
        "data": {"name": "d"},
        "transform": [{"filter": "datum.p == 'C2'"}],
        "encoding": {
          "x": {"field": "x", "type": "quantitative", "scale": {"domain": [0, 5], "nice": false, "zero": false}, "axis": {"values": [0, 2.5, 5], "labels": false, "title": null}},
          "y": {"field": "y", "type": "quantitative", "title": "Mean of J̃ₑₓc", "scale": {"domain": [0, 1000], "nice": false, "zero": false}, "axis": {"values": [0, 500, 1000], "labelExpr": "'' + datum.value", "titleX": -47}},
          "color": {"field": "s", "type": "nominal", "scale": {"domain": ["t", "200", "400", "800"], "range": ["#000000", "#EC5B2C", "#F5B731", "#8B3A9C"]}, "legend": null}
        },
        "layer": [
          {"transform": [{"filter": "datum.s == 't'"}], "mark": {"type": "line", "strokeWidth": 2.2, "interpolate": "monotone"}},
          {"transform": [{"filter": "datum.s != 't'"}], "mark": {"type": "line", "strokeWidth": 2}},
          {"transform": [{"filter": "datum.s != 't' && isValid(datum.lo)"}], "mark": {"type": "rule", "strokeWidth": 1.8}, "encoding": {"y": {"field": "lo", "type": "quantitative", "title": "Mean of J̃ₑₓc"}, "y2": {"field": "hi"}}},
          {"transform": [{"filter": "datum.s != 't' && isValid(datum.lo)"}], "mark": {"type": "tick", "orient": "horizontal", "size": 16, "thickness": 2}, "encoding": {"y": {"field": "lo", "type": "quantitative", "title": "Mean of J̃ₑₓc"}}},
          {"transform": [{"filter": "datum.s != 't' && isValid(datum.hi)"}], "mark": {"type": "tick", "orient": "horizontal", "size": 16, "thickness": 2}, "encoding": {"y": {"field": "hi", "type": "quantitative", "title": "Mean of J̃ₑₓc"}}}
        ]
       },
       {"width": 249, "height": 247,
        "title": {"text": "D2", "dx": 36, "offset": -44},
        "data": {"name": "d"},
        "transform": [{"filter": "datum.p == 'D2'"}],
        "encoding": {
          "x": {"field": "x", "type": "quantitative", "scale": {"domain": [0, 5], "nice": false, "zero": false}, "axis": {"values": [0, 2.5, 5], "labelExpr": "'' + datum.value", "title": "Rescaled robustness, ρ"}},
          "y": {"field": "y", "type": "quantitative", "title": "S.D. of J̃ₑₓc", "scale": {"domain": [0, 1000], "nice": false, "zero": false}, "axis": {"values": [0, 500, 1000], "labelExpr": "'' + datum.value", "titleX": -47}},
          "color": {"field": "s", "type": "nominal", "scale": {"domain": ["t", "200", "400", "800"], "range": ["#000000", "#EC5B2C", "#F5B731", "#8B3A9C"]}, "legend": null}
        },
        "layer": [
          {"transform": [{"filter": "datum.s == 't'"}], "mark": {"type": "line", "strokeWidth": 2.2, "interpolate": "monotone"}},
          {"transform": [{"filter": "datum.s != 't'"}], "mark": {"type": "line", "strokeWidth": 2}},
          {"transform": [{"filter": "datum.s != 't' && isValid(datum.lo)"}], "mark": {"type": "rule", "strokeWidth": 1.8}, "encoding": {"y": {"field": "lo", "type": "quantitative", "title": "S.D. of J̃ₑₓc"}, "y2": {"field": "hi"}}},
          {"transform": [{"filter": "datum.s != 't' && isValid(datum.lo)"}], "mark": {"type": "tick", "orient": "horizontal", "size": 16, "thickness": 2}, "encoding": {"y": {"field": "lo", "type": "quantitative", "title": "S.D. of J̃ₑₓc"}}},
          {"transform": [{"filter": "datum.s != 't' && isValid(datum.hi)"}], "mark": {"type": "tick", "orient": "horizontal", "size": 16, "thickness": 2}, "encoding": {"y": {"field": "hi", "type": "quantitative", "title": "S.D. of J̃ₑₓc"}}}
        ]
       }
      ]
     },
     {"width": 249, "height": 247,
      "title": {"text": "E2", "dx": 40, "offset": -56},
      "data": {"name": "d"},
      "transform": [{"filter": "datum.p == 'E2'"}],
      "resolve": {"axis": {"y": "independent"}},
      "layer": [
       {"encoding": {
          "x": {"field": "x", "type": "quantitative", "scale": {"domain": [0, 3000], "nice": false, "zero": false}, "axis": {"values": [0, 1000, 2000, 3000], "labelExpr": "'' + datum.value", "labelPadding": 9, "titlePadding": 10, "title": "Exc. connection weight, J̃ₑₓc"}},
          "y": {"field": "y", "type": "quantitative", "title": "Probability density", "scale": {"domain": [-0.1, 2.5], "nice": false, "zero": false}, "axis": {"values": [0, 1, 2], "labelExpr": "'' + datum.value", "titleX": -57}},
          "color": {"field": "s", "type": "nominal", "scale": {"domain": ["t", "200", "400", "800"], "range": ["#000000", "#EC5B2C", "#F5B731", "#8B3A9C"]}, "legend": null}
        },
        "layer": [
          {"transform": [{"filter": "datum.s == 't'"}], "mark": {"type": "line", "strokeWidth": 2.2, "interpolate": "monotone"}},
          {"transform": [{"filter": "datum.s != 't'"}], "mark": {"type": "line", "strokeWidth": 2}},
          {"transform": [{"filter": "datum.s != 't' && isValid(datum.lo)"}], "mark": {"type": "rule", "strokeWidth": 1.8}, "encoding": {"y": {"field": "lo", "type": "quantitative", "title": "Probability density"}, "y2": {"field": "hi"}}},
          {"transform": [{"filter": "datum.s != 't' && isValid(datum.lo)"}], "mark": {"type": "tick", "orient": "horizontal", "size": 16, "thickness": 2}, "encoding": {"y": {"field": "lo", "type": "quantitative", "title": "Probability density"}}},
          {"transform": [{"filter": "datum.s != 't' && isValid(datum.hi)"}], "mark": {"type": "tick", "orient": "horizontal", "size": 16, "thickness": 2}, "encoding": {"y": {"field": "hi", "type": "quantitative", "title": "Probability density"}}}
        ]
       },
       {"transform": [{"filter": "false"}], "mark": {"type": "point", "opacity": 0},
        "encoding": {"y": {"field": "y", "type": "quantitative", "axis": {"orient": "left", "title": "×10⁻³", "titleAngle": 0, "titleX": -16, "titleY": -8, "titleAlign": "left", "titleBaseline": "alphabetic", "titleFontSize": 14, "titleColor": "#222222", "labels": false, "ticks": false, "domain": false}}}}
      ]
     }
    ]
   }
  ]
 }
]
}
